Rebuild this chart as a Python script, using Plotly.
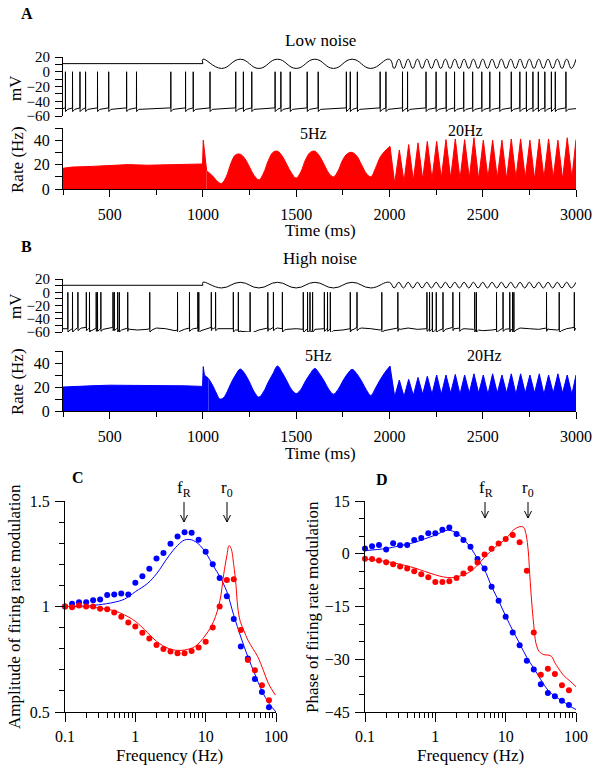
import plotly.graph_objects as go

W, H = 599, 769
SERIF = "Liberation Serif"

# ---------------- data ----------------
# spike times (ms)
spikes_low = [263, 301, 341, 371, 435, 495, 591, 644, 828, 907, 948, 1038, 1176, 1217, 1262,
              1387, 1418, 1468, 1559, 1618, 1769, 1790, 1828, 1950, 1981, 2070, 2097, 2196,
              2250, 2304, 2349, 2398, 2446, 2495, 2538, 2591, 2653, 2699, 2734, 2769, 2798,
              2833, 2868, 2889, 2946]
spikes_high = [276, 301, 330, 375, 392, 428, 435, 453, 518, 525, 543, 552, 597, 715, 864, 928,
               973, 978, 1045, 1068, 1163, 1190, 1253, 1348, 1378, 1426, 1538, 1561, 1574, 1588,
               1651, 1668, 1683, 1790, 1826, 1959, 2045, 2201, 2215, 2230, 2251, 2287, 2340,
               2376, 2457, 2466, 2574, 2609, 2645, 2660, 2667, 2842, 2910, 2991]

# high-noise membrane baseline (mV), every 50 ms from 250 ms
vm_high_t = list(range(250, 3001, 50))
vm_high_v = [-55, -56, -54, -57, -55, -54, -56, -55, -57, -56, -54, -55, -58, -56, -55, -57,
             -54, -55, -56, -58, -60, -57, -55, -54, -56, -55, -57, -56, -55, -58, -57, -56,
             -54, -55, -57, -56, -55, -54, -56, -55, -57, -56, -54, -55, -56, -58, -57, -55,
             -56, -54, -55, -56, -55, -57, -55, -54]

# stimulus extrema (ms)
stim_5_t = [1000, 1100, 1200, 1300, 1400, 1500, 1600, 1700, 1800, 1900, 2000]
stim_20_t = list(range(2000, 3001, 25))
stimA_hi, stimA_lo, stimA_flat = 17.0, 4.5, 11.0
stimB_hi, stimB_lo, stimB_flat = 15.0, 6.5, 10.5

# firing rate, low noise
rateA_base_t = [250, 300, 400, 500, 600, 700, 800, 900, 998, 1002, 1008, 1020]
rateA_base_v = [17, 18, 18.5, 19, 20, 19.5, 20, 20.5, 20.5, 40, 30, 15]
rateA_5_t = [1020, 1050, 1080, 1100, 1125, 1150, 1175, 1200, 1225, 1250, 1275, 1300, 1325,
             1350, 1375, 1400, 1425, 1450, 1475, 1500, 1525, 1550, 1575, 1600, 1625, 1650,
             1675, 1700, 1725, 1750, 1775, 1800, 1825, 1850, 1875, 1900, 1925, 1950, 1975, 2003]
rateA_5_v = [15, 11, 6, 4.5, 10, 21, 28, 28.5, 25, 18, 11, 7.5, 13, 23, 30, 31, 27, 20, 13, 9,
             14, 24, 30, 31, 27, 20, 13, 10, 15, 24, 29, 30, 27, 20, 13, 10, 17, 26, 31, 35]
rateA_20_peak = [35, 32, 36.4, 37.8, 39, 39, 40.5, 41, 40.5, 42, 40, 40, 40, 41, 41, 40, 41, 41,
                 40, 42, 40.5]
rateA_20_trough = [4.7, 6, 7, 8, 8, 9, 9, 8, 9, 8, 9, 9, 8, 9, 9, 8, 9, 9, 8, 9]

# firing rate, high noise
rateB_base_t = [250, 300, 400, 500, 600, 700, 800, 900, 998, 1002, 1008, 1030]
rateB_base_v = [20, 20.5, 21, 21.5, 21.5, 21, 21, 21, 20.5, 37, 30, 27]
rateB_5_t = [1030, 1050, 1075, 1090, 1110, 1130, 1150, 1175, 1200, 1225, 1250, 1275, 1300,
             1325, 1350, 1375, 1400, 1425, 1450, 1475, 1500, 1525, 1550, 1575, 1600, 1625,
             1650, 1675, 1700, 1725, 1750, 1775, 1800, 1825, 1850, 1875, 1900, 1925, 1950,
             1975, 2003]
rateB_5_v = [27, 22, 14, 10, 11, 16, 23, 30, 35, 31, 24, 16, 11.5, 16, 24, 31, 37.5, 32, 25, 18,
             14.5, 18, 25, 31, 35.5, 31, 25, 18, 14, 18, 25, 31, 34.7, 31, 25, 18, 13, 19, 26,
             32, 37.5]
rateB_20_peak = [37.5, 25.8, 26.4, 28, 29, 30, 30, 30.5, 30, 31, 30, 31, 30, 31, 31, 30, 31, 30,
                 31, 30, 30]
rateB_20_trough = [12, 12, 13, 14, 14, 14, 15, 14, 15, 15, 14, 15, 15, 14, 15, 15, 14, 15, 15, 14]

# C / D : frequency response
freq = [0.1, 0.126, 0.158, 0.2, 0.251, 0.316, 0.398, 0.501, 0.631, 0.794, 1.0, 1.26, 1.58, 2.0,
        2.51, 3.16, 3.98, 5.01, 6.31, 7.94, 10.0, 12.6, 15.8, 20.0, 25.1, 31.6, 39.8, 50.1,
        63.1, 79.4]
amp_high_dots = [1.0, 1.013, 1.02, 1.02, 1.03, 1.033, 1.054, 1.057, 1.062, 1.057, 1.113, 1.143,
                 1.179, 1.228, 1.253, 1.297, 1.332, 1.352, 1.35, 1.316, 1.26, 1.2, 1.135, 1.048,
                 0.941, 0.81, 0.754, 0.656, 0.595, 0.522]
amp_low_dots = [1.0, 0.997, 1.005, 1.0, 1.0, 0.989, 0.987, 0.971, 0.952, 0.924, 0.905, 0.876,
                0.848, 0.817, 0.798, 0.787, 0.779, 0.778, 0.789, 0.806, 0.833, 0.9, 1.0, 1.126,
                1.129, 0.889, 0.746, 0.698, 0.627, 0.556]
phase_high_dots = [1.5, 2.1, 2.5, 1.2, 3.0, 2.4, 2.5, 3.9, 4.5, 5.8, 5.8, 6.8, 7.5, 5.6, 3.9,
                   2.0, -1.5, -4.2, -9.4, -13.4, -17.9, -22.4, -26.0, -30.4, -32.9, -37.1,
                   -39.6, -40.5, -41.8, -43.0]
phase_low_dots = [-1.4, -1.5, -1.9, -2.4, -3.0, -3.6, -4.2, -5.0, -5.8, -6.7, -8.0, -8.0, -7.8,
                  -6.9, -5.6, -4.2, -2.5, -0.2, 1.4, 2.9, 4.2, 5.3, 3.3, -4.8, -22.4, -34.4,
                  -32.7, -34.2, -37.4, -38.8]

amp_high_line_f = [0.1, 0.2, 0.3, 0.5, 0.7, 1, 1.5, 2, 3, 4, 5, 6.3, 8, 10, 13, 16, 20, 25, 32,
                   40, 50, 63, 80, 100]
amp_high_line = [1.0, 1.003, 1.008, 1.02, 1.035, 1.07, 1.11, 1.155, 1.24, 1.29, 1.315, 1.316,
                 1.295, 1.255, 1.19, 1.14, 1.07, 0.96, 0.85, 0.76, 0.68, 0.6, 0.54, 0.5]
amp_low_line_f = [0.1, 0.2, 0.3, 0.5, 0.7, 1, 1.5, 2, 3, 4, 5, 7, 10, 13, 16, 18, 20, 21.5, 23,
                  25, 27, 28.5, 31, 35, 40, 47, 55, 66, 78, 98]
amp_low_line = [1.0, 0.998, 0.993, 0.98, 0.96, 0.93, 0.875, 0.835, 0.8, 0.792, 0.794, 0.81,
                0.865, 0.93, 1.03, 1.15, 1.24, 1.289, 1.275, 1.2, 1.1, 1.0, 0.93, 0.885, 0.84,
                0.8, 0.762, 0.698, 0.635, 0.58]
phase_high_line_f = [0.1, 0.2, 0.3, 0.5, 0.7, 1, 1.5, 2, 2.5, 3.16, 4, 5, 6.3, 8, 10, 12.6,
                     15.8, 20, 25, 31.6, 40, 50, 63, 80, 100]
phase_high_line = [0.9, 1.5, 2.2, 3.2, 4.2, 5.3, 6.7, 5.9, 4.2, 1.8, -1.5, -4.5, -9.3, -13.5,
                   -17.7, -21.8, -25.5, -29.5, -32.5, -35.8, -38.8, -40.5, -41.8, -43.2, -44.3]
phase_low_line_f = [0.1, 0.2, 0.3, 0.5, 0.7, 1, 1.3, 1.7, 2, 3, 4, 5, 7, 10, 13, 16, 18, 19.5,
                    21, 22, 23.5, 25, 27, 30, 35, 40, 45, 50, 56, 66, 82, 100]
phase_low_line = [-1.5, -2.2, -2.9, -4.0, -5.0, -6.0, -6.6, -6.8, -6.6, -5.3, -3.2, -1.0, 1.8,
                  4.2, 6.8, 7.7, 7.5, 5.5, 0.5, -6, -14, -20, -25.5, -27.8, -28.7, -28.8, -29.2,
                  -31, -32.5, -34.5, -36.2, -37.8]

RED = "rgb(255,0,0)"
BLUE = "rgb(0,0,255)"


# ---------------- helpers ----------------
def vm_trace(spikes, base_t, base_v, dip):
    pts = list(zip(base_t, base_v))
    for i, t in enumerate(spikes):
        b = min(zip(base_t, base_v), key=lambda p: abs(p[0] - t))[1]
        pts += [(t - 0.4, b + 1), (t, 0), (t + 0.6, b + dip)]
        nxt = spikes[i + 1] if i + 1 < len(spikes) else 3001
        if t + 12 < nxt:
            pts.append((t + 12, b - 1))
    pts.sort()
    return [p[0] for p in pts], [p[1] for p in pts]


def stim_points(flat, hi, lo):
    t5 = stim_5_t
    v5 = [hi if i % 2 == 0 else lo for i in range(len(t5))]
    t20 = stim_20_t
    v20 = [hi if i % 2 == 0 else lo for i in range(len(t20))]
    return ([250, 1000], [flat, flat]), (t5 + t20[1:], v5 + v20[1:])


def rate20(peaks, troughs):
    t, v = [], []
    for k, p in enumerate(peaks):
        t.append(2003 + 50 * k if k < len(peaks) - 1 else 3000)
        v.append(p)
        if k < len(troughs):
            t.append(2028 + 50 * k)
            v.append(troughs[k])
    return t, v


fig = go.Figure()

# ---- A voltage ----
vx, vy = vm_trace(spikes_low, [250, 3000], [-50, -50], -4)
fig.add_trace(go.Scatter(x=vx, y=vy, mode="lines", line=dict(color="black", width=1),
                         xaxis="x", yaxis="y", hoverinfo="skip"))
(fA, sA) = stim_points(stimA_flat, stimA_hi, stimA_lo)
fig.add_trace(go.Scatter(x=fA[0], y=fA[1], mode="lines", line=dict(color="black", width=1),
                         xaxis="x", yaxis="y"))
fig.add_trace(go.Scatter(x=[1000] + sA[0], y=[stimA_flat] + sA[1], mode="lines",
                         line=dict(color="black", width=1, shape="spline", smoothing=1.3),
                         xaxis="x", yaxis="y"))

# ---- A rate ----
fig.add_trace(go.Scatter(x=rateA_base_t, y=rateA_base_v, mode="lines", fill="tozeroy",
                         fillcolor=RED, line=dict(color=RED, width=1), xaxis="x2", yaxis="y2"))
fig.add_trace(go.Scatter(x=rateA_5_t, y=rateA_5_v, mode="lines", fill="tozeroy",
                         fillcolor=RED, line=dict(color=RED, width=1, shape="spline"),
                         xaxis="x2", yaxis="y2"))
t20, v20 = rate20(rateA_20_peak, rateA_20_trough)
fig.add_trace(go.Scatter(x=[2003] + t20, y=[rateA_5_v[-1]] + v20, mode="lines", fill="tozeroy",
                         fillcolor=RED, line=dict(color=RED, width=1), xaxis="x2", yaxis="y2"))

# ---- B voltage ----
vx, vy = vm_trace(spikes_high, vm_high_t, vm_high_v, -4)
fig.add_trace(go.Scatter(x=vx, y=vy, mode="lines", line=dict(color="black", width=1),
                         xaxis="x3", yaxis="y3"))
(fB, sB) = stim_points(stimB_flat, stimB_hi, stimB_lo)
fig.add_trace(go.Scatter(x=fB[0], y=fB[1], mode="lines", line=dict(color="black", width=1),
                         xaxis="x3", yaxis="y3"))
fig.add_trace(go.Scatter(x=[1000] + sB[0], y=[stimB_flat] + sB[1], mode="lines",
                         line=dict(color="black", width=1, shape="spline", smoothing=1.3),
                         xaxis="x3", yaxis="y3"))

# ---- B rate ----
fig.add_trace(go.Scatter(x=rateB_base_t, y=rateB_base_v, mode="lines", fill="tozeroy",
                         fillcolor=BLUE, line=dict(color=BLUE, width=1), xaxis="x4", yaxis="y4"))
fig.add_trace(go.Scatter(x=rateB_5_t, y=rateB_5_v, mode="lines", fill="tozeroy",
                         fillcolor=BLUE, line=dict(color=BLUE, width=1, shape="spline"),
                         xaxis="x4", yaxis="y4"))
t20, v20 = rate20(rateB_20_peak, rateB_20_trough)
fig.add_trace(go.Scatter(x=[2003] + t20, y=[rateB_5_v[-1]] + v20, mode="lines", fill="tozeroy",
                         fillcolor=BLUE, line=dict(color=BLUE, width=1), xaxis="x4", yaxis="y4"))

# ---- C ----
fig.add_trace(go.Scatter(x=amp_high_line_f, y=amp_high_line, mode="lines",
                         line=dict(color=BLUE, width=1, shape="spline"), xaxis="x5", yaxis="y5"))
fig.add_trace(go.Scatter(x=amp_low_line_f, y=amp_low_line, mode="lines",
                         line=dict(color=RED, width=1, shape="spline"), xaxis="x5", yaxis="y5"))
fig.add_trace(go.Scatter(x=freq, y=amp_high_dots, mode="markers", cliponaxis=False,
                         marker=dict(color=BLUE, size=6), xaxis="x5", yaxis="y5"))
fig.add_trace(go.Scatter(x=freq, y=amp_low_dots, mode="markers", cliponaxis=False,
                         marker=dict(color=RED, size=6), xaxis="x5", yaxis="y5"))

# ---- D ----
fig.add_trace(go.Scatter(x=phase_high_line_f, y=phase_high_line, mode="lines",
                         line=dict(color=BLUE, width=1, shape="spline"), xaxis="x6", yaxis="y6"))
fig.add_trace(go.Scatter(x=phase_low_line_f, y=phase_low_line, mode="lines",
                         line=dict(color=RED, width=1, shape="spline"), xaxis="x6", yaxis="y6"))
fig.add_trace(go.Scatter(x=freq, y=phase_high_dots, mode="markers", cliponaxis=False,
                         marker=dict(color=BLUE, size=6), xaxis="x6", yaxis="y6"))
fig.add_trace(go.Scatter(x=freq, y=phase_low_dots, mode="markers", cliponaxis=False,
                         marker=dict(color=RED, size=6), xaxis="x6", yaxis="y6"))


# ---------------- layout ----------------
def dom_x(a, b):
    return [a / W, b / W]


def dom_y(top, bottom):
    return [1 - bottom / H, 1 - top / H]


font = dict(family=SERIF, size=16, color="black")
vfont = dict(family=SERIF, size=15, color="black")
common = dict(showline=True, linecolor="black", linewidth=1, ticks="outside", tickcolor="black",
              tickwidth=1, showgrid=False, zeroline=False, automargin=False)

time_major = [500, 1000, 1500, 2000, 2500, 3000]
time_minor = [250, 750, 1250, 1750, 2250, 2750]


def time_axis(anchor, dom):
    return dict(domain=dom, range=[250, 3000], anchor=anchor, tickvals=time_major,
                ticklen=7, ticklabelstandoff=4, tickfont=font,
                minor=dict(tickvals=time_minor, ticks="outside", ticklen=5, tickcolor="black"),
                **common)


def vm_axis(anchor, dom):
    return dict(domain=dom, range=[-60, 20], anchor=anchor, tickvals=[-60, -40, -20, 0, 20],
                ticklen=7, ticklabelstandoff=2, tickfont=vfont,
                minor=dict(tickvals=[-50, -30, -10, 10], ticks="outside", ticklen=7,
                           tickcolor="black"),
                **common)


def rate_axis(anchor, dom):
    return dict(domain=dom, range=[0, 50], anchor=anchor, tickvals=[0, 20, 40],
                ticklen=7, ticklabelstandoff=2, tickfont=font,
                minor=dict(tickvals=[10, 30, 50], ticks="outside", ticklen=7, tickcolor="black"),
                **common)


ab_x = dom_x(63, 576)
f_major = [0.1, 1, 10, 100]
f_minor = [m * d for d in (0.1, 1, 10) for m in range(2, 10)]


def freq_axis(anchor, dom):
    return dict(domain=dom, type="log", range=[-1, 2], anchor=anchor, tickvals=f_major,
                ticktext=["0.1", "1", "10", "100"], ticklen=9, ticklabelstandoff=1,
                tickfont=font,
                minor=dict(tickvals=f_minor, ticks="outside", ticklen=5, tickcolor="black"),
                **common)


hidden = dict(range=[250, 3000], visible=False, automargin=False)

fig.update_layout(
    template="none",
    width=W, height=H, margin=dict(l=0, r=0, t=0, b=0, pad=0, autoexpand=False),
    paper_bgcolor="white", plot_bgcolor="white", showlegend=False, font=font,
    xaxis=dict(domain=ab_x, anchor="y", **hidden),
    yaxis=vm_axis("x", dom_y(57, 116)),
    xaxis2=time_axis("y2", ab_x),
    yaxis2=rate_axis("x2", dom_y(128, 189)),
    xaxis3=dict(domain=ab_x, anchor="y3", **hidden),
    yaxis3=vm_axis("x3", dom_y(279, 332)),
    xaxis4=time_axis("y4", ab_x),
    yaxis4=rate_axis("x4", dom_y(351, 411)),
    xaxis5=freq_axis("y5", dom_x(65, 276)),
    yaxis5=dict(domain=dom_y(501, 712), range=[0.5, 1.5], anchor="x5", tickvals=[0.5, 1, 1.5],
                ticktext=["0.5", "1", "1.5"], ticklen=9, ticklabelstandoff=2, tickfont=font,
                minor=dict(tickvals=[0.6, 0.7, 0.8, 0.9, 1.1, 1.2, 1.3, 1.4], ticks="outside",
                           ticklen=5, tickcolor="black"), **common),
    xaxis6=freq_axis("y6", dom_x(365, 576)),
    yaxis6=dict(domain=dom_y(501, 712), range=[-45, 15], anchor="x6",
                tickvals=[-45, -30, -15, 0, 15], ticklen=9, ticklabelstandoff=2, tickfont=font,
                minor=dict(tickvals=[-40, -35, -25, -20, -10, -5, 5, 10], ticks="outside",
                           ticklen=5, tickcolor="black"), **common),
)


def txt(x, y, s, size=17, bold=False, angle=0):
    return dict(x=x / W, y=1 - y / H, xref="paper", yref="paper", showarrow=False,
                text=f"<b>{s}</b>" if bold else s, textangle=angle,
                font=dict(family=SERIF, size=size, color="black"),
                xanchor="center", yanchor="middle")


ann = [
    txt(27, 13, "A", 16, True), txt(26, 246, "B", 16, True),
    txt(78, 477, "C", 16, True), txt(382, 479, "D", 16, True),
    txt(320, 40, "Low noise"), txt(320, 258, "High noise"),
    txt(313, 133, "5Hz", 16), txt(465, 130, "20Hz", 16),
    txt(318, 355, "5Hz", 16), txt(484, 355, "20Hz", 16),
    txt(15, 88, "mV", 17, angle=-90), txt(17, 160, "Rate (Hz)", 17, angle=-90),
    txt(15, 306, "mV", 17, angle=-90), txt(17, 382, "Rate (Hz)", 17, angle=-90),
    txt(320, 230, "Time (ms)"), txt(320, 453, "Time (ms)"),
    txt(14, 607, "Amplitude of firing rate modulation", angle=-90),
    txt(312, 607, "Phase of firing rate modulation", angle=-90),
    txt(170, 755, "Frequency (Hz)"), txt(470, 755, "Frequency (Hz)"),
    txt(184, 489, "f<sub>R</sub>"), txt(227, 489, "r<sub>0</sub>"),
    txt(486, 489, "f<sub>R</sub>"), txt(528, 489, "r<sub>0</sub>"),
]
fig.update_layout(annotations=ann)


# arrows (drawn as paper-space line shapes)
def arrow_shapes(x, y_top, y_tip):
    ln = dict(color="black", width=1)
    X = lambda v: v / W
    Y = lambda v: 1 - v / H
    return [
        dict(type="line", xref="paper", yref="paper", x0=X(x), x1=X(x), y0=Y(y_top), y1=Y(y_tip), line=ln),
        dict(type="line", xref="paper", yref="paper", x0=X(x - 3.5), x1=X(x), y0=Y(y_tip - 7), y1=Y(y_tip), line=ln),
        dict(type="line", xref="paper", yref="paper", x0=X(x + 3.5), x1=X(x), y0=Y(y_tip - 7), y1=Y(y_tip), line=ln),
    ]


shapes = (arrow_shapes(184, 502, 522) + arrow_shapes(227, 502, 522)
          + arrow_shapes(485, 502, 518) + arrow_shapes(528, 502, 518))
fig.update_layout(shapes=shapes)

fig.write_html("out.html", config={"displayModeBar": False, "staticPlot": True},
               post_script="document.body.style.margin='0';document.body.style.overflow='hidden';")
